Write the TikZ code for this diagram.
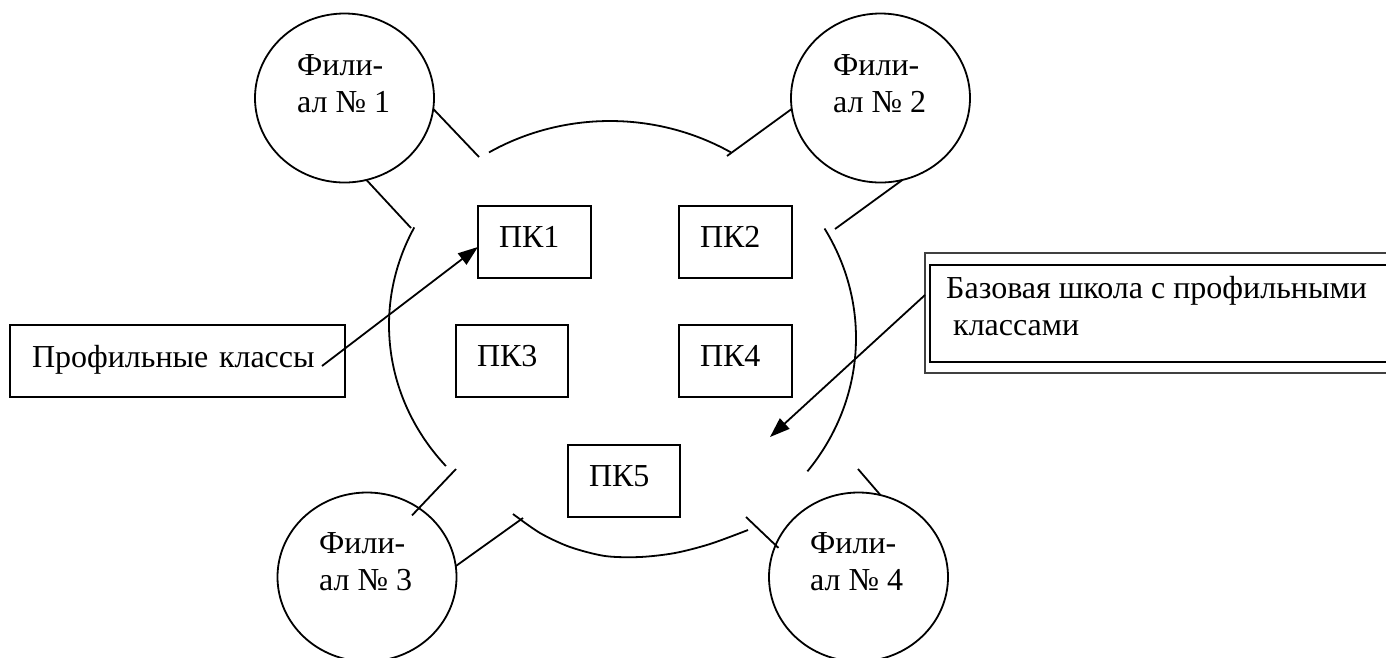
\documentclass[tikz,border=0pt]{standalone}
\usepackage{fontspec}
\setmainfont{Liberation Serif}
\usetikzlibrary{arrows.meta,shapes.geometric,calc}
\begin{document}
\begin{tikzpicture}[x=1pt,y=-1pt,
  ln/.style={line width=1.8pt,black},
  txt/.style={font=\fontsize{32}{37}\selectfont,inner sep=0pt,anchor=base west},
  fil/.style={ellipse,draw,ln,minimum width=179pt,minimum height=169pt,inner sep=0pt,outer sep=0pt},
  pk/.style={draw,ln,anchor=north west,font=\fontsize{32}{37}\selectfont,
     inner xsep=21pt,inner ysep=0pt,text height=41pt,text depth=31pt,align=left,outer sep=0pt},
  arr/.style={ln,-{Triangle[length=20pt,width=14pt]}},
  arc/.style={ln,smooth,samples=40}
]
\useasboundingbox (0,0) rectangle (1386,657);

% branch circles
\node[fil] (f1) at (344.5,98) {};
\node[fil] (f2) at (880.5,98) {};
\node[fil] (f3) at (367,577) {};
\node[fil] (f4) at (858.5,577) {};
\node[txt] (f1a) at (297,75) {Фили-};
\node[txt] (f1b) at (297,112) {ал № 1};
\node[txt] (f2a) at (833,75) {Фили-};
\node[txt] (f2b) at (833,112) {ал № 2};
\node[txt] (f3a) at (319,553) {Фили-};
\node[txt] (f3b) at (319,590) {ал № 3};
\node[txt] (f4a) at (810,553) {Фили-};
\node[txt] (f4b) at (810,590) {ал № 4};

% broken big circle (base school), four arcs
\draw[arc] plot[domain=59:121] ({610+235*cos(\x)},{341-220*sin(\x)});
\draw[arc] plot[domain=153:221] ({621+232*cos(\x)},{325-215*sin(\x)});
\draw[arc] plot coordinates {(513,514) (540,533) (570,547) (605,556) (640,557) (675,553) (710,544) (748,530)};
\draw[arc] plot[domain=-37.5:30] ({621+235*cos(\x)},{338-219*sin(\x)});

% connector end points at the gaps
\coordinate (g1a) at (479,157);
\coordinate (g1b) at (411,228);
\coordinate (g2a) at (727,156);
\coordinate (g2b) at (835,229);
\coordinate (g3a) at (456,469);
\coordinate (g3b) at (523,518);
\coordinate (g4a) at (858,469);
\coordinate (g4b) at (746,517);

\draw[ln] (f1.-7) -- (g1a);
\draw[ln] (f1.-75) -- (g1b);
\draw[ln] (f2.187) -- (g2a);
\draw[ln] (f2.-75) -- (g2b);
\draw[ln,shorten >=-10pt] (g3a) -- (f3.53);
\draw[ln] (f3.7.6) -- (g3b);
\draw[ln] (g4a) -- (f4.75);
\draw[ln,shorten >=-4pt] (g4b) -- (f4.159);

% profile classes
\node[pk,text width=71pt] (pk1) at (478,206) {ПК1};
\node[pk,text width=71pt] (pk2) at (679,206) {ПК2};
\node[pk,text width=70pt] (pk3) at (456,325) {ПК3};
\node[pk,text width=71pt] (pk4) at (679,325) {ПК4};
\node[pk,text width=70pt] (pk5) at (568,445) {ПК5};

% label: profile classes
\node[pk,inner xsep=22pt,text width=291pt,text height=42pt,text depth=30pt] (lab) at (10,325) {Профильные классы};
\coordinate (a1s) at (322,366);
\draw[arr] (a1s) -- (pk1.185);

% label: base school (double frame)
\draw[line width=1.3pt,black!75] (925,253) coordinate (bbnw) rectangle (1400,373);
\draw[line width=2.2pt] (930,265) rectangle (1400,362);
\node[txt] (bs1) at (946,298) {Базовая школа с профильными};
\node[txt] (bs2) at (953,335) {классами};
\coordinate (a2s) at (925,295);
\coordinate (a2e) at (770,437);
\draw[arr] (a2s) -- (a2e);
\end{tikzpicture}
\end{document}
